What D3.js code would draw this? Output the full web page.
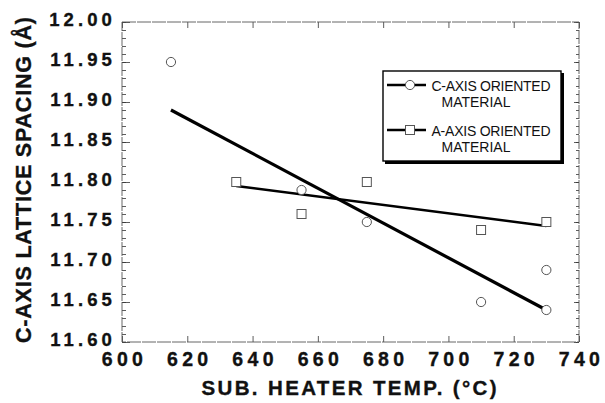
<!DOCTYPE html>
<html>
<head>
<meta charset="utf-8">
<script src="https://cdn.jsdelivr.net/npm/d3@7"></script>
<style>
  body { margin: 0; background: #fff; }
  svg { display: block; }
  .tickLabel { font-family: "Liberation Sans", Arial, sans-serif; font-weight: bold; fill: #111; stroke: #111; stroke-width: 0.35px; }
</style>
</head>
<body>
<svg id="chart" width="605" height="403"></svg>
<script>

// data
const cTemp = [615, 655, 675, 710, 730, 730]
const cSpacing = [11.95, 11.79, 11.75, 11.65, 11.69, 11.64]
const aTemp = [635, 655, 675, 710, 730]
const aSpacing = [11.80, 11.76, 11.80, 11.74, 11.75]

// fitted lines (end points)
const cFitTemp = [615, 730]
const cFitSpacing = [11.89, 11.64]
const aFitTemp = [635, 730]
const aFitSpacing = [11.795, 11.745]

const xTicks = [600, 620, 640, 660, 680, 700, 720, 740]
const yTicks = [11.60, 11.65, 11.70, 11.75, 11.80, 11.85, 11.90, 11.95, 12.00]
const yMinorTicks = d3.range(11.60, 12.001, 0.01)

const legendLabels = [ ["C-AXIS ORIENTED", "MATERIAL"], ["A-AXIS ORIENTED", "MATERIAL"] ]

const plotLeft = 122, plotRight = 579, plotTop = 22, plotBottom = 342

var x = d3.scaleLinear().domain([600, 740]).range([plotLeft, plotRight])
var y = d3.scaleLinear().domain([11.60, 12.00]).range([plotBottom, plotTop])

var svg = d3.select("#chart")

// minor ticks left / right
svg.append("g")
   .attr("transform", "translate(" + plotLeft + ",0)")
   .call( d3.axisLeft(y).tickValues(yMinorTicks).tickSize(-4).tickFormat("") )
svg.append("g")
   .attr("transform", "translate(" + plotRight + ",0)")
   .call( d3.axisRight(y).tickValues(yMinorTicks).tickSize(-3).tickFormat("") )

// major left axis with labels
var yAxisG = svg.append("g")
   .attr("transform", "translate(" + plotLeft + ",0)")
   .call( d3.axisLeft(y).tickValues(yTicks).tickSize(-8).tickPadding(6)
            .tickFormat( d => d3.format(".2f")(d) ) )
yAxisG.selectAll("text")
      .attr("class", "tickLabel")
      .attr("font-size", 18.5)
      .attr("letter-spacing", "4.1px")
      .attr("dy", "0.2em")

svg.append("g")
   .attr("transform", "translate(" + plotRight + ",0)")
   .call( d3.axisRight(y).tickValues(yTicks).tickSize(-5).tickFormat("") )

// bottom axis with labels
var xAxisG = svg.append("g")
   .attr("transform", "translate(0," + plotBottom + ")")
   .call( d3.axisBottom(x).tickValues(xTicks).tickSize(-6).tickPadding(10)
            .tickFormat( d => d ) )
xAxisG.selectAll("text")
      .attr("class", "tickLabel")
      .attr("font-size", 19.5)
      .attr("letter-spacing", "4.3px")
      .attr("dx", "2px")

svg.append("g")
   .attr("transform", "translate(0," + plotTop + ")")
   .call( d3.axisTop(x).tickValues(xTicks).tickSize(-6).tickFormat("") )

svg.selectAll(".domain").remove()
svg.selectAll(".tick line").attr("stroke", "#333").attr("stroke-width", 0.8)

// frame
svg.append("rect")
   .attr("x", plotLeft).attr("y", plotTop)
   .attr("width", plotRight - plotLeft).attr("height", plotBottom - plotTop)
   .attr("fill", "none")
   .attr("stroke", "#555")
   .attr("stroke-width", 0.9)
   .attr("stroke-dasharray", "14,1")

// titles
svg.append("text")
   .attr("class", "tickLabel")
   .attr("x", 349).attr("y", 395)
   .attr("text-anchor", "middle")
   .attr("font-size", 20.5)
   .attr("textLength", 295)
   .attr("lengthAdjust", "spacing")
   .text("SUB. HEATER TEMP. (°C)")

svg.append("text")
   .attr("class", "tickLabel")
   .attr("transform", "translate(31,180) rotate(-90)")
   .attr("text-anchor", "middle")
   .attr("font-size", 21.5)
   .attr("textLength", 326)
   .attr("lengthAdjust", "spacing")
   .text("C-AXIS LATTICE SPACING (Å)")

// fit lines
var line = d3.line().x(d => x(d[0])).y(d => y(d[1]))

svg.append("path")
   .datum( d3.zip(cFitTemp, cFitSpacing) )
   .attr("d", line)
   .attr("fill", "none").attr("stroke", "#000").attr("stroke-width", 3.2)

svg.append("path")
   .datum( d3.zip(aFitTemp, aFitSpacing) )
   .attr("d", line)
   .attr("fill", "none").attr("stroke", "#000").attr("stroke-width", 2.4)

// markers
svg.selectAll(".cPoint")
   .data( d3.zip(cTemp, cSpacing) )
   .enter().append("circle")
   .attr("class", "cPoint")
   .attr("cx", d => x(d[0])).attr("cy", d => y(d[1]))
   .attr("r", 4.6)
   .attr("fill", "#fff").attr("stroke", "#555").attr("stroke-width", 1)

svg.selectAll(".aPoint")
   .data( d3.zip(aTemp, aSpacing) )
   .enter().append("rect")
   .attr("class", "aPoint")
   .attr("x", d => x(d[0]) - 4.5).attr("y", d => y(d[1]) - 4.5)
   .attr("width", 9).attr("height", 9)
   .attr("fill", "#fff").attr("stroke", "#555").attr("stroke-width", 1)

// legend
var lg = svg.append("g")
lg.append("rect")
  .attr("x", 385).attr("y", 73).attr("width", 179).attr("height", 91)
  .attr("fill", "#000")
lg.append("rect")
  .attr("x", 383).attr("y", 71).attr("width", 178).attr("height", 90)
  .attr("fill", "#fff").attr("stroke", "#000").attr("stroke-width", 1.4)

legendLabels.forEach(function(lab, i){
  let ly = 85 + i * 45
  lg.append("line")
    .attr("x1", 387).attr("x2", 426).attr("y1", ly).attr("y2", ly)
    .attr("stroke", "#000").attr("stroke-width", 2.4)
  if ( i == 0 ){
    lg.append("circle").attr("cx", 410).attr("cy", ly).attr("r", 4.6)
      .attr("fill", "#fff").attr("stroke", "#555")
  }
  else {
    lg.append("rect").attr("x", 405.5).attr("y", ly - 4.5).attr("width", 9).attr("height", 9)
      .attr("fill", "#fff").attr("stroke", "#555")
  }
  lg.append("text")
    .attr("x", 431.5).attr("y", ly + 5.7)
    .attr("font-family", "Liberation Sans, Arial, sans-serif")
    .attr("font-size", 14)
    .attr("fill", "#111")
    .attr("textLength", 119).attr("lengthAdjust", "spacing")
    .text(lab[0])
  lg.append("text")
    .attr("x", 441.5).attr("y", ly + 22.3)
    .attr("font-family", "Liberation Sans, Arial, sans-serif")
    .attr("font-size", 14)
    .attr("fill", "#111")
    .text(lab[1])
})

</script>
</body>
</html>
